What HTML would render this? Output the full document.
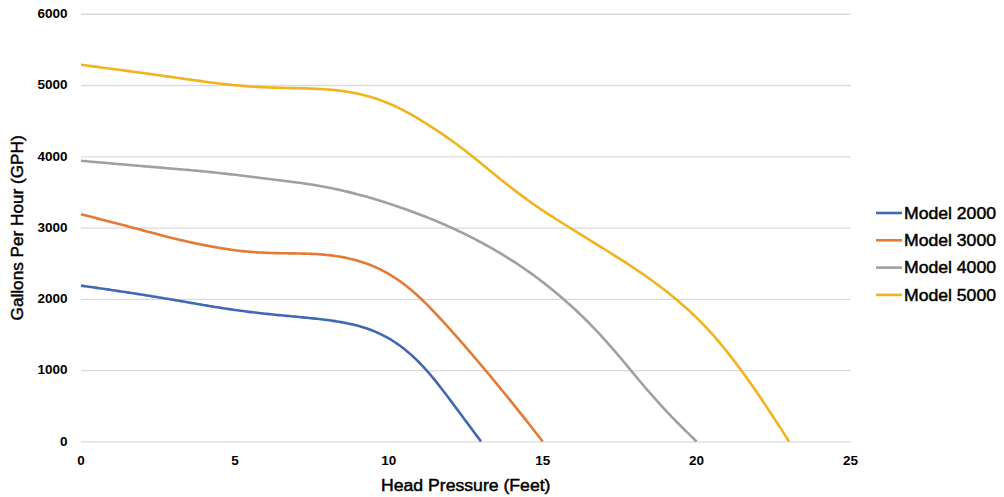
<!DOCTYPE html>
<html><head><meta charset="utf-8"><style>
html,body{margin:0;padding:0;background:#fff;width:1004px;height:497px;overflow:hidden}
svg{display:block}
text{font-family:"Liberation Sans",sans-serif;fill:#000}
</style></head><body>
<svg width="1004" height="497" viewBox="0 0 1004 497">
<g stroke="#dadada" stroke-width="1.4" fill="none">
<line x1="81.0" y1="441.90" x2="850.5" y2="441.90" />
<line x1="81.0" y1="370.63" x2="850.5" y2="370.63" />
<line x1="81.0" y1="299.37" x2="850.5" y2="299.37" />
<line x1="81.0" y1="228.10" x2="850.5" y2="228.10" />
<line x1="81.0" y1="156.83" x2="850.5" y2="156.83" />
<line x1="81.0" y1="85.57" x2="850.5" y2="85.57" />
<line x1="81.0" y1="14.30" x2="850.5" y2="14.30" />
</g>
<g fill="none" stroke-width="2.6" stroke-linecap="butt" stroke-linejoin="round">
<path d="M81.0,285.60 L83.0,285.89 L85.0,286.17 L87.0,286.46 L89.0,286.75 L91.0,287.04 L93.0,287.33 L95.0,287.62 L97.0,287.91 L99.0,288.20 L101.0,288.49 L103.0,288.78 L105.0,289.07 L107.0,289.36 L109.0,289.66 L111.0,289.95 L113.0,290.25 L115.0,290.54 L117.0,290.84 L119.0,291.14 L121.0,291.44 L123.0,291.74 L125.0,292.04 L127.0,292.35 L129.0,292.65 L131.0,292.96 L133.0,293.27 L135.0,293.58 L137.0,293.89 L139.0,294.20 L141.0,294.52 L143.0,294.83 L145.0,295.15 L147.0,295.47 L149.0,295.79 L151.0,296.11 L153.0,296.44 L155.0,296.76 L157.0,297.09 L159.0,297.42 L161.0,297.75 L163.0,298.09 L165.0,298.42 L167.0,298.75 L169.0,299.09 L171.0,299.43 L173.0,299.77 L175.0,300.11 L177.0,300.45 L179.0,300.80 L181.0,301.14 L183.0,301.49 L185.0,301.84 L187.0,302.18 L189.0,302.53 L191.0,302.87 L193.0,303.22 L195.0,303.57 L197.0,303.91 L199.0,304.25 L201.0,304.59 L203.0,304.93 L205.0,305.27 L207.0,305.61 L209.0,305.94 L211.0,306.27 L213.0,306.60 L215.0,306.92 L217.0,307.25 L219.0,307.56 L221.0,307.88 L223.0,308.19 L225.0,308.50 L227.0,308.80 L229.0,309.10 L231.0,309.39 L233.0,309.68 L235.0,309.97 L237.0,310.25 L239.0,310.53 L241.0,310.80 L243.0,311.07 L245.0,311.33 L247.0,311.59 L249.0,311.84 L251.0,312.09 L253.0,312.33 L255.0,312.57 L257.0,312.80 L259.0,313.03 L261.0,313.26 L263.0,313.48 L265.0,313.70 L267.0,313.91 L269.0,314.12 L271.0,314.33 L273.0,314.53 L275.0,314.73 L277.0,314.93 L279.0,315.13 L281.0,315.32 L283.0,315.51 L285.0,315.70 L287.0,315.89 L289.0,316.07 L291.0,316.26 L293.0,316.45 L295.0,316.63 L297.0,316.82 L299.0,317.01 L301.0,317.20 L303.0,317.39 L305.0,317.59 L307.0,317.78 L309.0,317.98 L311.0,318.19 L313.0,318.40 L315.0,318.61 L317.0,318.83 L319.0,319.06 L321.0,319.29 L323.0,319.53 L325.0,319.78 L327.0,320.04 L329.0,320.30 L331.0,320.58 L333.0,320.86 L335.0,321.16 L337.0,321.47 L339.0,321.79 L341.0,322.13 L343.0,322.49 L345.0,322.87 L347.0,323.26 L349.0,323.68 L351.0,324.11 L353.0,324.58 L355.0,325.06 L357.0,325.57 L359.0,326.11 L361.0,326.68 L363.0,327.28 L365.0,327.91 L367.0,328.58 L369.0,329.28 L371.0,330.02 L373.0,330.79 L375.0,331.61 L377.0,332.46 L379.0,333.36 L381.0,334.31 L383.0,335.30 L385.0,336.34 L387.0,337.42 L389.0,338.56 L391.0,339.74 L393.0,340.98 L395.0,342.27 L397.0,343.62 L399.0,345.02 L401.0,346.48 L403.0,348.00 L405.0,349.57 L407.0,351.20 L409.0,352.89 L411.0,354.64 L413.0,356.46 L415.0,358.33 L417.0,360.27 L419.0,362.27 L421.0,364.33 L423.0,366.45 L425.0,368.64 L427.0,370.88 L429.0,373.18 L431.0,375.53 L433.0,377.93 L435.0,380.38 L437.0,382.87 L439.0,385.40 L441.0,387.97 L443.0,390.56 L445.0,393.17 L447.0,395.80 L449.0,398.44 L451.0,401.10 L453.0,403.77 L455.0,406.45 L457.0,409.14 L459.0,411.83 L461.0,414.52 L463.0,417.22 L465.0,419.92 L467.0,422.62 L469.0,425.32 L471.0,428.01 L473.0,430.71 L475.0,433.41 L477.0,436.11 L479.0,438.80 L481.0,441.50" stroke="#4068B4" />
<path d="M81.0,214.30 L83.0,214.81 L85.0,215.32 L87.0,215.82 L89.0,216.33 L91.0,216.84 L93.0,217.35 L95.0,217.86 L97.0,218.37 L99.0,218.88 L101.0,219.39 L103.0,219.91 L105.0,220.42 L107.0,220.93 L109.0,221.45 L111.0,221.96 L113.0,222.48 L115.0,223.00 L117.0,223.51 L119.0,224.03 L121.0,224.55 L123.0,225.08 L125.0,225.60 L127.0,226.12 L129.0,226.65 L131.0,227.18 L133.0,227.71 L135.0,228.24 L137.0,228.77 L139.0,229.31 L141.0,229.84 L143.0,230.38 L145.0,230.91 L147.0,231.45 L149.0,231.98 L151.0,232.51 L153.0,233.05 L155.0,233.58 L157.0,234.10 L159.0,234.63 L161.0,235.15 L163.0,235.67 L165.0,236.18 L167.0,236.69 L169.0,237.20 L171.0,237.70 L173.0,238.20 L175.0,238.69 L177.0,239.17 L179.0,239.65 L181.0,240.12 L183.0,240.58 L185.0,241.04 L187.0,241.49 L189.0,241.94 L191.0,242.38 L193.0,242.81 L195.0,243.24 L197.0,243.66 L199.0,244.07 L201.0,244.47 L203.0,244.87 L205.0,245.27 L207.0,245.65 L209.0,246.03 L211.0,246.40 L213.0,246.76 L215.0,247.12 L217.0,247.47 L219.0,247.81 L221.0,248.14 L223.0,248.47 L225.0,248.78 L227.0,249.09 L229.0,249.39 L231.0,249.67 L233.0,249.95 L235.0,250.21 L237.0,250.47 L239.0,250.71 L241.0,250.94 L243.0,251.16 L245.0,251.36 L247.0,251.55 L249.0,251.73 L251.0,251.90 L253.0,252.05 L255.0,252.19 L257.0,252.33 L259.0,252.45 L261.0,252.56 L263.0,252.66 L265.0,252.76 L267.0,252.84 L269.0,252.92 L271.0,252.98 L273.0,253.04 L275.0,253.10 L277.0,253.14 L279.0,253.18 L281.0,253.22 L283.0,253.25 L285.0,253.28 L287.0,253.31 L289.0,253.34 L291.0,253.36 L293.0,253.39 L295.0,253.42 L297.0,253.45 L299.0,253.49 L301.0,253.53 L303.0,253.58 L305.0,253.63 L307.0,253.69 L309.0,253.76 L311.0,253.84 L313.0,253.93 L315.0,254.03 L317.0,254.15 L319.0,254.27 L321.0,254.42 L323.0,254.58 L325.0,254.75 L327.0,254.95 L329.0,255.16 L331.0,255.39 L333.0,255.65 L335.0,255.92 L337.0,256.22 L339.0,256.55 L341.0,256.89 L343.0,257.26 L345.0,257.65 L347.0,258.07 L349.0,258.52 L351.0,258.99 L353.0,259.49 L355.0,260.01 L357.0,260.57 L359.0,261.15 L361.0,261.76 L363.0,262.41 L365.0,263.09 L367.0,263.80 L369.0,264.55 L371.0,265.33 L373.0,266.14 L375.0,267.00 L377.0,267.89 L379.0,268.82 L381.0,269.79 L383.0,270.81 L385.0,271.86 L387.0,272.96 L389.0,274.11 L391.0,275.30 L393.0,276.54 L395.0,277.82 L397.0,279.15 L399.0,280.53 L401.0,281.96 L403.0,283.43 L405.0,284.95 L407.0,286.53 L409.0,288.15 L411.0,289.81 L413.0,291.53 L415.0,293.29 L417.0,295.09 L419.0,296.94 L421.0,298.82 L423.0,300.74 L425.0,302.69 L427.0,304.67 L429.0,306.69 L431.0,308.73 L433.0,310.80 L435.0,312.89 L437.0,315.00 L439.0,317.13 L441.0,319.29 L443.0,321.46 L445.0,323.65 L447.0,325.85 L449.0,328.07 L451.0,330.30 L453.0,332.54 L455.0,334.79 L457.0,337.06 L459.0,339.33 L461.0,341.62 L463.0,343.91 L465.0,346.22 L467.0,348.53 L469.0,350.86 L471.0,353.19 L473.0,355.53 L475.0,357.88 L477.0,360.24 L479.0,362.60 L481.0,364.97 L483.0,367.35 L485.0,369.74 L487.0,372.13 L489.0,374.53 L491.0,376.94 L493.0,379.35 L495.0,381.77 L497.0,384.19 L499.0,386.62 L501.0,389.06 L503.0,391.50 L505.0,393.95 L507.0,396.41 L509.0,398.88 L511.0,401.35 L513.0,403.83 L515.0,406.32 L517.0,408.82 L519.0,411.32 L521.0,413.84 L523.0,416.36 L525.0,418.89 L527.0,421.42 L529.0,423.97 L531.0,426.51 L533.0,429.06 L535.0,431.62 L537.0,434.18 L539.0,436.74 L541.0,439.30 L542.7,441.48" stroke="#E57A35" />
<path d="M81.0,160.80 L83.0,160.98 L85.0,161.15 L87.0,161.33 L89.0,161.50 L91.0,161.68 L93.0,161.85 L95.0,162.03 L97.0,162.20 L99.0,162.38 L101.0,162.55 L103.0,162.72 L105.0,162.90 L107.0,163.07 L109.0,163.25 L111.0,163.42 L113.0,163.59 L115.0,163.77 L117.0,163.94 L119.0,164.11 L121.0,164.29 L123.0,164.46 L125.0,164.63 L127.0,164.80 L129.0,164.97 L131.0,165.14 L133.0,165.31 L135.0,165.48 L137.0,165.65 L139.0,165.82 L141.0,165.99 L143.0,166.16 L145.0,166.33 L147.0,166.50 L149.0,166.67 L151.0,166.83 L153.0,167.00 L155.0,167.17 L157.0,167.34 L159.0,167.51 L161.0,167.67 L163.0,167.84 L165.0,168.01 L167.0,168.18 L169.0,168.35 L171.0,168.52 L173.0,168.69 L175.0,168.86 L177.0,169.03 L179.0,169.20 L181.0,169.37 L183.0,169.54 L185.0,169.71 L187.0,169.89 L189.0,170.07 L191.0,170.24 L193.0,170.42 L195.0,170.60 L197.0,170.79 L199.0,170.97 L201.0,171.16 L203.0,171.35 L205.0,171.54 L207.0,171.74 L209.0,171.94 L211.0,172.14 L213.0,172.34 L215.0,172.55 L217.0,172.76 L219.0,172.98 L221.0,173.20 L223.0,173.42 L225.0,173.65 L227.0,173.87 L229.0,174.10 L231.0,174.34 L233.0,174.57 L235.0,174.81 L237.0,175.05 L239.0,175.29 L241.0,175.54 L243.0,175.78 L245.0,176.03 L247.0,176.28 L249.0,176.53 L251.0,176.78 L253.0,177.03 L255.0,177.28 L257.0,177.54 L259.0,177.79 L261.0,178.04 L263.0,178.29 L265.0,178.55 L267.0,178.80 L269.0,179.05 L271.0,179.30 L273.0,179.54 L275.0,179.79 L277.0,180.03 L279.0,180.28 L281.0,180.52 L283.0,180.76 L285.0,181.00 L287.0,181.25 L289.0,181.49 L291.0,181.74 L293.0,181.99 L295.0,182.25 L297.0,182.50 L299.0,182.77 L301.0,183.04 L303.0,183.32 L305.0,183.60 L307.0,183.89 L309.0,184.19 L311.0,184.50 L313.0,184.82 L315.0,185.15 L317.0,185.49 L319.0,185.83 L321.0,186.19 L323.0,186.55 L325.0,186.93 L327.0,187.31 L329.0,187.70 L331.0,188.10 L333.0,188.51 L335.0,188.93 L337.0,189.36 L339.0,189.80 L341.0,190.25 L343.0,190.70 L345.0,191.17 L347.0,191.64 L349.0,192.13 L351.0,192.62 L353.0,193.12 L355.0,193.63 L357.0,194.15 L359.0,194.67 L361.0,195.21 L363.0,195.76 L365.0,196.31 L367.0,196.87 L369.0,197.45 L371.0,198.03 L373.0,198.62 L375.0,199.21 L377.0,199.82 L379.0,200.44 L381.0,201.06 L383.0,201.69 L385.0,202.33 L387.0,202.97 L389.0,203.62 L391.0,204.28 L393.0,204.95 L395.0,205.62 L397.0,206.30 L399.0,206.99 L401.0,207.68 L403.0,208.38 L405.0,209.08 L407.0,209.80 L409.0,210.52 L411.0,211.24 L413.0,211.98 L415.0,212.72 L417.0,213.46 L419.0,214.22 L421.0,214.98 L423.0,215.75 L425.0,216.53 L427.0,217.32 L429.0,218.11 L431.0,218.92 L433.0,219.73 L435.0,220.55 L437.0,221.38 L439.0,222.22 L441.0,223.08 L443.0,223.94 L445.0,224.81 L447.0,225.70 L449.0,226.59 L451.0,227.50 L453.0,228.42 L455.0,229.35 L457.0,230.28 L459.0,231.23 L461.0,232.19 L463.0,233.16 L465.0,234.14 L467.0,235.13 L469.0,236.13 L471.0,237.14 L473.0,238.16 L475.0,239.19 L477.0,240.23 L479.0,241.28 L481.0,242.35 L483.0,243.42 L485.0,244.50 L487.0,245.60 L489.0,246.71 L491.0,247.83 L493.0,248.96 L495.0,250.11 L497.0,251.27 L499.0,252.44 L501.0,253.63 L503.0,254.83 L505.0,256.05 L507.0,257.28 L509.0,258.53 L511.0,259.80 L513.0,261.08 L515.0,262.37 L517.0,263.69 L519.0,265.01 L521.0,266.36 L523.0,267.73 L525.0,269.11 L527.0,270.50 L529.0,271.92 L531.0,273.35 L533.0,274.81 L535.0,276.27 L537.0,277.76 L539.0,279.26 L541.0,280.79 L543.0,282.33 L545.0,283.88 L547.0,285.46 L549.0,287.05 L551.0,288.66 L553.0,290.29 L555.0,291.94 L557.0,293.60 L559.0,295.28 L561.0,296.98 L563.0,298.69 L565.0,300.43 L567.0,302.18 L569.0,303.96 L571.0,305.76 L573.0,307.58 L575.0,309.42 L577.0,311.29 L579.0,313.19 L581.0,315.11 L583.0,317.05 L585.0,319.02 L587.0,321.01 L589.0,323.02 L591.0,325.06 L593.0,327.12 L595.0,329.21 L597.0,331.33 L599.0,333.47 L601.0,335.64 L603.0,337.83 L605.0,340.04 L607.0,342.28 L609.0,344.53 L611.0,346.82 L613.0,349.12 L615.0,351.44 L617.0,353.78 L619.0,356.13 L621.0,358.50 L623.0,360.88 L625.0,363.28 L627.0,365.68 L629.0,368.09 L631.0,370.50 L633.0,372.92 L635.0,375.33 L637.0,377.73 L639.0,380.13 L641.0,382.51 L643.0,384.88 L645.0,387.23 L647.0,389.57 L649.0,391.89 L651.0,394.18 L653.0,396.47 L655.0,398.73 L657.0,400.97 L659.0,403.18 L661.0,405.38 L663.0,407.56 L665.0,409.72 L667.0,411.85 L669.0,413.96 L671.0,416.06 L673.0,418.13 L675.0,420.19 L677.0,422.22 L679.0,424.24 L681.0,426.24 L683.0,428.23 L685.0,430.21 L687.0,432.18 L689.0,434.14 L691.0,436.10 L693.0,438.05 L695.0,440.00 L696.6,441.55" stroke="#A0A0A0" />
<path d="M81.0,64.80 L83.0,65.06 L85.0,65.32 L87.0,65.58 L89.0,65.85 L91.0,66.11 L93.0,66.37 L95.0,66.63 L97.0,66.89 L99.0,67.16 L101.0,67.42 L103.0,67.68 L105.0,67.95 L107.0,68.21 L109.0,68.47 L111.0,68.74 L113.0,69.00 L115.0,69.27 L117.0,69.53 L119.0,69.80 L121.0,70.06 L123.0,70.33 L125.0,70.60 L127.0,70.87 L129.0,71.14 L131.0,71.41 L133.0,71.68 L135.0,71.95 L137.0,72.22 L139.0,72.49 L141.0,72.76 L143.0,73.04 L145.0,73.31 L147.0,73.59 L149.0,73.86 L151.0,74.14 L153.0,74.41 L155.0,74.69 L157.0,74.97 L159.0,75.25 L161.0,75.53 L163.0,75.81 L165.0,76.09 L167.0,76.37 L169.0,76.65 L171.0,76.94 L173.0,77.22 L175.0,77.50 L177.0,77.79 L179.0,78.07 L181.0,78.36 L183.0,78.64 L185.0,78.93 L187.0,79.21 L189.0,79.49 L191.0,79.77 L193.0,80.05 L195.0,80.33 L197.0,80.61 L199.0,80.88 L201.0,81.16 L203.0,81.43 L205.0,81.69 L207.0,81.96 L209.0,82.22 L211.0,82.48 L213.0,82.73 L215.0,82.98 L217.0,83.23 L219.0,83.47 L221.0,83.70 L223.0,83.93 L225.0,84.16 L227.0,84.38 L229.0,84.60 L231.0,84.81 L233.0,85.01 L235.0,85.20 L237.0,85.39 L239.0,85.58 L241.0,85.75 L243.0,85.92 L245.0,86.08 L247.0,86.24 L249.0,86.38 L251.0,86.52 L253.0,86.65 L255.0,86.77 L257.0,86.89 L259.0,87.00 L261.0,87.11 L263.0,87.20 L265.0,87.30 L267.0,87.38 L269.0,87.46 L271.0,87.54 L273.0,87.61 L275.0,87.67 L277.0,87.73 L279.0,87.79 L281.0,87.84 L283.0,87.89 L285.0,87.93 L287.0,87.98 L289.0,88.02 L291.0,88.07 L293.0,88.11 L295.0,88.15 L297.0,88.20 L299.0,88.25 L301.0,88.29 L303.0,88.35 L305.0,88.40 L307.0,88.46 L309.0,88.53 L311.0,88.60 L313.0,88.68 L315.0,88.76 L317.0,88.85 L319.0,88.95 L321.0,89.06 L323.0,89.18 L325.0,89.31 L327.0,89.45 L329.0,89.60 L331.0,89.77 L333.0,89.95 L335.0,90.15 L337.0,90.36 L339.0,90.59 L341.0,90.83 L343.0,91.10 L345.0,91.38 L347.0,91.68 L349.0,92.00 L351.0,92.35 L353.0,92.71 L355.0,93.10 L357.0,93.51 L359.0,93.95 L361.0,94.40 L363.0,94.89 L365.0,95.39 L367.0,95.92 L369.0,96.48 L371.0,97.07 L373.0,97.68 L375.0,98.32 L377.0,98.99 L379.0,99.68 L381.0,100.40 L383.0,101.15 L385.0,101.92 L387.0,102.73 L389.0,103.56 L391.0,104.42 L393.0,105.31 L395.0,106.22 L397.0,107.16 L399.0,108.13 L401.0,109.13 L403.0,110.14 L405.0,111.19 L407.0,112.25 L409.0,113.34 L411.0,114.45 L413.0,115.58 L415.0,116.73 L417.0,117.90 L419.0,119.10 L421.0,120.30 L423.0,121.53 L425.0,122.77 L427.0,124.03 L429.0,125.30 L431.0,126.58 L433.0,127.88 L435.0,129.19 L437.0,130.51 L439.0,131.85 L441.0,133.20 L443.0,134.56 L445.0,135.94 L447.0,137.34 L449.0,138.74 L451.0,140.17 L453.0,141.60 L455.0,143.06 L457.0,144.53 L459.0,146.01 L461.0,147.52 L463.0,149.04 L465.0,150.58 L467.0,152.13 L469.0,153.70 L471.0,155.28 L473.0,156.88 L475.0,158.49 L477.0,160.11 L479.0,161.73 L481.0,163.36 L483.0,165.00 L485.0,166.63 L487.0,168.27 L489.0,169.91 L491.0,171.54 L493.0,173.17 L495.0,174.80 L497.0,176.42 L499.0,178.03 L501.0,179.64 L503.0,181.24 L505.0,182.83 L507.0,184.41 L509.0,185.98 L511.0,187.54 L513.0,189.09 L515.0,190.62 L517.0,192.14 L519.0,193.65 L521.0,195.14 L523.0,196.62 L525.0,198.09 L527.0,199.55 L529.0,200.99 L531.0,202.41 L533.0,203.82 L535.0,205.22 L537.0,206.60 L539.0,207.96 L541.0,209.32 L543.0,210.66 L545.0,211.99 L547.0,213.31 L549.0,214.62 L551.0,215.92 L553.0,217.20 L555.0,218.48 L557.0,219.75 L559.0,221.02 L561.0,222.27 L563.0,223.52 L565.0,224.77 L567.0,226.01 L569.0,227.25 L571.0,228.48 L573.0,229.72 L575.0,230.95 L577.0,232.18 L579.0,233.41 L581.0,234.64 L583.0,235.88 L585.0,237.11 L587.0,238.34 L589.0,239.58 L591.0,240.81 L593.0,242.05 L595.0,243.29 L597.0,244.54 L599.0,245.78 L601.0,247.03 L603.0,248.27 L605.0,249.52 L607.0,250.77 L609.0,252.02 L611.0,253.27 L613.0,254.53 L615.0,255.79 L617.0,257.05 L619.0,258.32 L621.0,259.60 L623.0,260.88 L625.0,262.17 L627.0,263.46 L629.0,264.76 L631.0,266.07 L633.0,267.39 L635.0,268.72 L637.0,270.06 L639.0,271.42 L641.0,272.78 L643.0,274.15 L645.0,275.54 L647.0,276.94 L649.0,278.36 L651.0,279.79 L653.0,281.24 L655.0,282.70 L657.0,284.18 L659.0,285.68 L661.0,287.20 L663.0,288.74 L665.0,290.30 L667.0,291.88 L669.0,293.47 L671.0,295.09 L673.0,296.72 L675.0,298.38 L677.0,300.05 L679.0,301.75 L681.0,303.46 L683.0,305.19 L685.0,306.95 L687.0,308.73 L689.0,310.54 L691.0,312.38 L693.0,314.26 L695.0,316.16 L697.0,318.11 L699.0,320.08 L701.0,322.10 L703.0,324.14 L705.0,326.23 L707.0,328.36 L709.0,330.52 L711.0,332.73 L713.0,334.98 L715.0,337.26 L717.0,339.59 L719.0,341.95 L721.0,344.35 L723.0,346.78 L725.0,349.24 L727.0,351.74 L729.0,354.27 L731.0,356.83 L733.0,359.42 L735.0,362.05 L737.0,364.69 L739.0,367.37 L741.0,370.07 L743.0,372.80 L745.0,375.56 L747.0,378.34 L749.0,381.14 L751.0,383.97 L753.0,386.82 L755.0,389.70 L757.0,392.59 L759.0,395.51 L761.0,398.45 L763.0,401.41 L765.0,404.39 L767.0,407.39 L769.0,410.41 L771.0,413.46 L773.0,416.52 L775.0,419.59 L777.0,422.69 L779.0,425.79 L781.0,428.91 L783.0,432.03 L785.0,435.16 L787.0,438.30 L789.0,441.43" stroke="#F0B41C" />
</g>
<g font-size="13.5" font-weight="bold" text-anchor="end">
<text x="67.6" y="445.6">0</text>
<text x="67.6" y="374.3">1000</text>
<text x="67.6" y="303.1">2000</text>
<text x="67.6" y="231.8">3000</text>
<text x="67.6" y="160.5">4000</text>
<text x="67.6" y="89.3">5000</text>
<text x="67.6" y="18.0">6000</text>
</g>
<g font-size="13.5" font-weight="bold" text-anchor="middle">
<text x="81.0" y="465.2">0</text>
<text x="234.9" y="465.2">5</text>
<text x="388.8" y="465.2">10</text>
<text x="542.7" y="465.2">15</text>
<text x="696.6" y="465.2">20</text>
<text x="850.5" y="465.2">25</text>
</g>
<g stroke-width="2.6" stroke-linecap="butt">
<line x1="876" y1="213.0" x2="902" y2="213.0" stroke="#4068B4" />
<text stroke="#000" stroke-width="0.45" font-size="16" textLength="92" lengthAdjust="spacingAndGlyphs" x="904" y="218.7">Model 2000</text>
<line x1="876" y1="240.3" x2="902" y2="240.3" stroke="#E57A35" />
<text stroke="#000" stroke-width="0.45" font-size="16" textLength="92" lengthAdjust="spacingAndGlyphs" x="904" y="246.0">Model 3000</text>
<line x1="876" y1="267.6" x2="902" y2="267.6" stroke="#A0A0A0" />
<text stroke="#000" stroke-width="0.45" font-size="16" textLength="92" lengthAdjust="spacingAndGlyphs" x="904" y="273.3">Model 4000</text>
<line x1="876" y1="294.9" x2="902" y2="294.9" stroke="#F0B41C" />
<text stroke="#000" stroke-width="0.45" font-size="16" textLength="92" lengthAdjust="spacingAndGlyphs" x="904" y="300.6">Model 5000</text>
</g>
<text x="381" y="490.5" font-size="16" stroke="#000" stroke-width="0.45" textLength="169.5" lengthAdjust="spacingAndGlyphs">Head Pressure (Feet)</text>
<text transform="translate(22.8,320.4) rotate(-90)" x="0" y="0" font-size="16" stroke="#000" stroke-width="0.45" textLength="185" lengthAdjust="spacingAndGlyphs">Gallons Per Hour (GPH)</text>
</svg>
</body></html>
